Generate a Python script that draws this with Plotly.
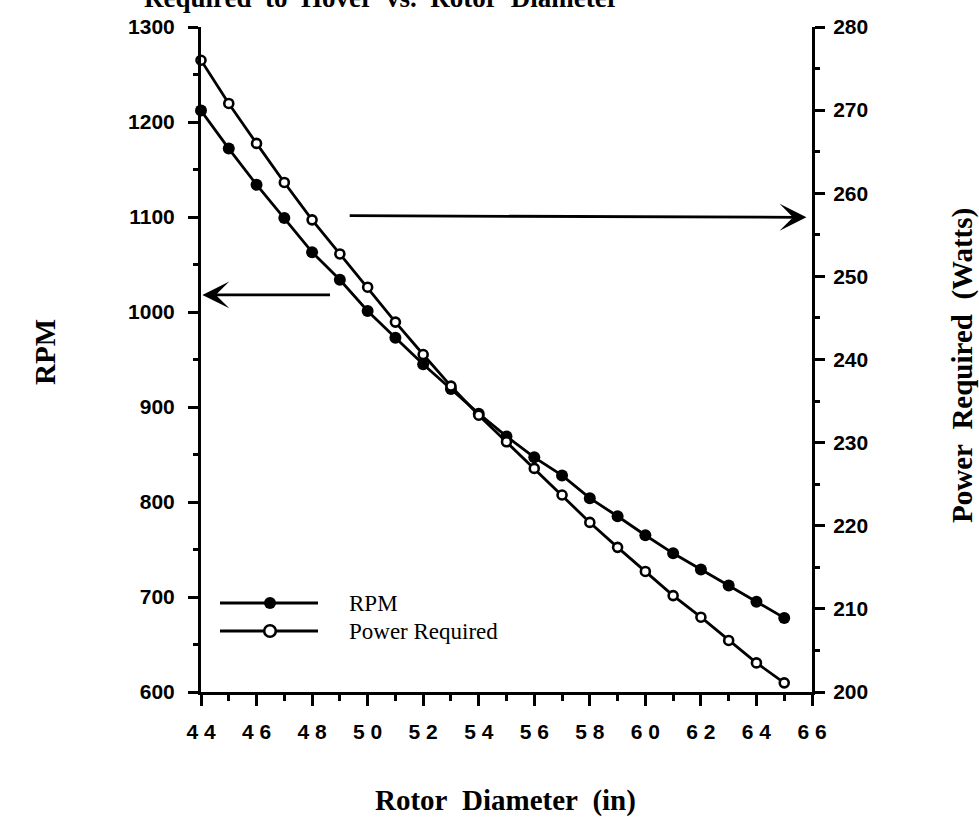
import plotly.graph_objects as go

# ---- data ----
diameter = [44, 45, 46, 47, 48, 49, 50, 51, 52, 53, 54, 55, 56, 57, 58, 59, 60, 61, 62, 63, 64, 65]
rpm = [1212, 1172, 1134, 1099, 1063, 1034, 1001, 973, 945, 919, 893, 869,
       847, 828, 804, 785, 765, 746, 729, 712, 695, 678]
power = [276.0, 270.8, 266.0, 261.3, 256.8, 252.7, 248.7, 244.5, 240.6, 236.8, 233.3, 230.1,
         226.9, 223.7, 220.4, 217.4, 214.5, 211.6, 209.0, 206.2, 203.5, 201.1]

x_tickvals = [44, 46, 48, 50, 52, 54, 56, 58, 60, 62, 64, 66]
x_ticktext = ["4 4", "4 6", "4 8", "5 0", "5 2", "5 4", "5 6", "5 8", "6 0", "6 2", "6 4", "6 6"]
legend_names = ["RPM", "Power Required"]

# ---- layout geometry (pixels) ----
W, H = 979, 827
L, R, T, B = 201, 812, 27, 692
PW, PH = R - L, B - T


def px(xp):
    return (xp - L) / PW


def py(yp):
    return (B - yp) / PH


SERIF = "Liberation Serif"
SANS = "Liberation Sans"

fig = go.Figure()

fig.add_trace(go.Scatter(
    x=diameter, y=rpm, mode="lines+markers", name=legend_names[0],
    line=dict(color="black", width=2.8),
    marker=dict(symbol="circle", size=12, color="black"),
    cliponaxis=False, showlegend=False, yaxis="y",
))
fig.add_trace(go.Scatter(
    x=diameter, y=power, mode="lines+markers", name=legend_names[1],
    line=dict(color="black", width=2.8),
    marker=dict(symbol="circle", size=9, color="white", line=dict(color="black", width=2.6)),
    cliponaxis=False, showlegend=False, yaxis="y2",
))

tickfont = dict(family=SANS, size=21, color="black", weight="bold")

fig.update_layout(
    width=W, height=H,
    margin=dict(l=L, r=W - R, t=T, b=H - B, pad=0),
    paper_bgcolor="white", plot_bgcolor="white",
    showlegend=False,
    xaxis=dict(
        range=[44, 66], tickmode="array", tickvals=x_tickvals, ticktext=x_ticktext,
        showgrid=False, zeroline=False, showline=True, linecolor="black", linewidth=3,
        ticks="outside", ticklen=11, tickwidth=2.5, tickcolor="black",
        minor=dict(dtick=1, ticks="outside", ticklen=6, tickwidth=2.5, tickcolor="black", showgrid=False),
        tickfont=tickfont, ticklabelstandoff=8,
    ),
    yaxis=dict(
        range=[600, 1300], dtick=100, showgrid=False, zeroline=False,
        showline=True, linecolor="black", linewidth=3,
        ticks="outside", ticklen=10, tickwidth=2.5, tickcolor="black",
        minor=dict(dtick=50, ticks="outside", ticklen=5, tickwidth=2.5, tickcolor="black", showgrid=False),
        tickfont=tickfont, ticklabelstandoff=9,
    ),
    yaxis2=dict(
        range=[200, 280], dtick=10, overlaying="y", side="right",
        showgrid=False, zeroline=False, showline=True, linecolor="black", linewidth=3,
        ticks="outside", ticklen=10, tickwidth=2.5, tickcolor="black",
        minor=dict(dtick=5, ticks="outside", ticklen=5, tickwidth=2.5, tickcolor="black", showgrid=False),
        tickfont=tickfont, ticklabelstandoff=4,
    ),
)

titlefont = dict(family=SERIF, size=29, color="black", weight="bold")
ann = []
# partially visible chart title (cut at the top edge, as in the reference)
ann.append(dict(text="Required  to  Hover  vs.  Rotor  Diameter", xref="paper", yref="paper",
                x=px(142), y=1, xanchor="left", yanchor="bottom", yshift=12,
                showarrow=False, font=dict(family=SERIF, size=27, color="black", weight="bold")))
# axis titles
ann.append(dict(text="Rotor\u00a0\u00a0Diameter\u00a0\u00a0(in)", xref="paper", yref="paper",
                x=px(505), y=py(800), xanchor="center", yanchor="middle",
                showarrow=False, font=titlefont))
ann.append(dict(text="RPM", xref="paper", yref="paper", x=px(45), y=py(352),
                xanchor="center", yanchor="middle", textangle=-90, showarrow=False, font=titlefont))
ann.append(dict(text="Power\u00a0\u00a0Required\u00a0\u00a0(Watts)", xref="paper", yref="paper",
                x=px(962), y=py(365), xanchor="center", yanchor="middle", textangle=-90,
                showarrow=False, font=titlefont))
# arrows pointing at each axis
ann.append(dict(text="", x=44.05, y=1018, xref="x", yref="y", ax=48.7, ay=1018, axref="x", ayref="y",
                showarrow=True, arrowhead=3, arrowsize=1.6, arrowwidth=2.8, arrowcolor="black"))
ann.append(dict(text="", x=65.8, y=257.1, xref="x", yref="y2", ax=49.3, ay=257.3, axref="x", ayref="y2",
                showarrow=True, arrowhead=3, arrowsize=1.6, arrowwidth=2.8, arrowcolor="black"))

# hand-built legend (long line samples like the reference)
leg_rows = [(legend_names[0], 603, "black", 12), (legend_names[1], 631, "white", 9)]
shapes = []
for name, yp, fill, sz in leg_rows:
    shapes.append(dict(type="line", xref="paper", yref="paper", x0=px(220), x1=px(318),
                       y0=py(yp), y1=py(yp), line=dict(color="black", width=2.8)))
    r = sz / 2 + (1.3 if fill == "white" else 0)
    shapes.append(dict(type="circle", xref="paper", yref="paper", xsizemode="pixel", ysizemode="pixel",
                       xanchor=px(270), yanchor=py(yp), x0=-r, x1=r, y0=-r, y1=r,
                       fillcolor=fill, line=dict(color="black", width=2.6 if fill == "white" else 0)))
    ann.append(dict(text=name, xref="paper", yref="paper", x=px(347), y=py(yp),
                    xanchor="left", yanchor="middle", showarrow=False,
                    font=dict(family=SERIF, size=23, color="black")))

fig.update_layout(annotations=ann, shapes=shapes)

fig.write_html("out.html")
